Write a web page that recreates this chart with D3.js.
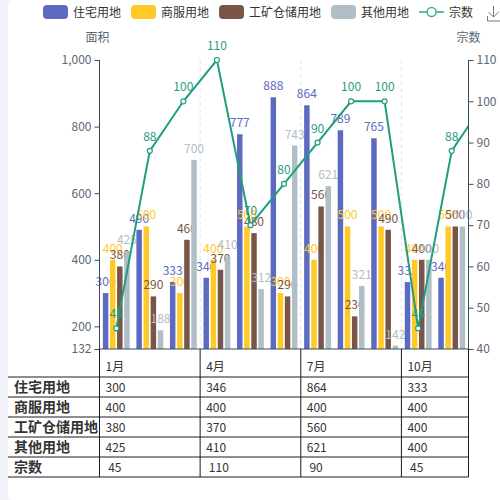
<!DOCTYPE html>
<html>
<head>
<meta charset="utf-8">
<script src="https://cdn.jsdelivr.net/npm/d3@7/dist/d3.min.js"></script>
<style>
  html, body { margin: 0; padding: 0; background: #f2f3f8; }
  svg { display: block; }
  text { font-family: "Noto Sans CJK SC", "Noto Sans", sans-serif; }
</style>
</head>
<body>
<svg id="chart" width="500" height="500"></svg>
<script>
// ---------- data ----------
const months = ["1月","2月","3月","4月","5月","6月","7月","8月","9月","10月","11月","12月"];
const visibleMonths = 11;
const seriesNames = ["住宅用地","商服用地","工矿仓储用地","其他用地"];
const residential = [300, 490, 333, 346, 777, 888, 864, 789, 765, 333, 346];
const commercial  = [400, 500, 300, 400, 500, 300, 400, 500, 500, 400, 500];
const industrial  = [380, 290, 460, 370, 480, 290, 560, 230, 490, 400, 500];
const other       = [425, 188, 700, 410, 312, 743, 621, 321, 142, 400, 500];
const countName = "宗数";
const counts      = [45, 88, 100, 110, 70, 80, 90, 100, 100, 45, 88, 100];
const leftTicks  = [132, 200, 400, 600, 800, 1000];
const rightTicks = [40, 50, 60, 70, 80, 90, 100, 110];
const tableColumns = [0, 3, 6, 9];   // month indices shown as axis labels / table columns
const leftAxisName = "面积";
const rightAxisName = "宗数";

const barSeries = [residential, commercial, industrial, other];
const colors = ["#5c6bc0", "#ffca28", "#795548", "#b0bec5"];
const lineColor = "#1f9d80";
const axisColor = "#3d4c5b";
const labelColor = "#5b6672";

// ---------- layout ----------
const svg = d3.select("#chart");
const x0 = 99.5, x1 = 468.5, yTop = 60, yBot = 349;
const plotW = x1 - x0;
const catW = plotW / visibleMonths;

svg.append("rect").attr("x", 8).attr("y", 0).attr("width", 500).attr("height", 500)
  .attr("rx", 5).attr("fill", "#fff");

const x = d3.scaleBand().domain(months).range([x0, x0 + catW * months.length]).padding(0);
const inner = d3.scaleBand().domain(seriesNames)
  .range([x.bandwidth() * 0.1, x.bandwidth() * 0.9])
  .paddingInner(0.3 / 1.3).paddingOuter(0);
const yL = d3.scaleLinear().domain([132, 1000]).range([yBot, yTop]);
const yR = d3.scaleLinear().domain([40, 110]).range([yBot, yTop]);

svg.append("clipPath").attr("id", "plotclip")
  .append("rect").attr("x", x0).attr("y", 0).attr("width", plotW).attr("height", yBot + 1);

// dashed vertical grid lines at label ticks
svg.append("g").selectAll("line").data(tableColumns.slice(1)).join("line")
  .attr("x1", i => x(months[i])).attr("x2", i => x(months[i]))
  .attr("y1", yTop).attr("y2", yBot)
  .attr("stroke", "#e0e3e8").attr("stroke-dasharray", "4,3");

// bars + labels, category-major order
const barsG = svg.append("g");
for (let c = 0; c < visibleMonths; c++) {
  barSeries.forEach((arr, s) => {
    const v = arr[c];
    const bx = x(months[c]) + inner(seriesNames[s]);
    barsG.append("rect")
      .attr("x", bx).attr("y", yL(v))
      .attr("width", inner.bandwidth()).attr("height", yL(132) - yL(v))
      .attr("fill", colors[s]);
    barsG.append("text")
      .attr("x", bx + inner.bandwidth() / 2).attr("y", yL(v) - 7)
      .attr("text-anchor", "middle").attr("font-size", 12)
      .attr("fill", colors[s]).text(v);
  });
}

// line series
const lineG = svg.append("g").attr("clip-path", "url(#plotclip)");
const line = d3.line().x((d, i) => x(months[i]) + x.bandwidth() / 2).y(d => yR(d));
lineG.append("path").datum(counts).attr("d", line)
  .attr("fill", "none").attr("stroke", lineColor).attr("stroke-width", 2);
lineG.selectAll("circle").data(counts).join("circle")
  .attr("cx", (d, i) => x(months[i]) + x.bandwidth() / 2).attr("cy", d => yR(d))
  .attr("r", 2.5).attr("fill", "#fff").attr("stroke", lineColor).attr("stroke-width", 1.2);
svg.append("g").selectAll("text").data(counts.slice(0, visibleMonths)).join("text")
  .attr("x", (d, i) => x(months[i]) + x.bandwidth() / 2).attr("y", d => yR(d) - 10)
  .attr("text-anchor", "middle").attr("font-size", 12).attr("fill", lineColor).text(d => d);

// axes
const leftAxis = d3.axisLeft(yL).tickValues(leftTicks).tickFormat(d3.format(",")).tickSize(5).tickPadding(3);
const gL = svg.append("g").attr("transform", `translate(${x0},0)`).call(leftAxis);
const rightAxis = d3.axisRight(yR).tickValues(rightTicks).tickSize(5).tickPadding(3);
const gR = svg.append("g").attr("transform", `translate(${x1},0)`).call(rightAxis);
[gL, gR].forEach(g => {
  g.select(".domain").attr("stroke", axisColor).attr("d", null);
  g.selectAll(".tick line").attr("stroke", axisColor);
  g.selectAll(".tick text").attr("fill", labelColor).attr("font-size", 12)
    .attr("font-family", '"Noto Sans CJK SC", sans-serif');
});
gL.select(".domain").remove();
gR.select(".domain").remove();
svg.append("line").attr("x1", x0).attr("x2", x0).attr("y1", yTop).attr("y2", yBot).attr("stroke", axisColor);
svg.append("line").attr("x1", x1).attr("x2", x1).attr("y1", yTop).attr("y2", yBot).attr("stroke", axisColor);
svg.append("line").attr("x1", x0).attr("x2", x1).attr("y1", yBot).attr("y2", yBot).attr("stroke", axisColor);

svg.append("text").attr("x", x0 - 2).attr("y", 42).attr("text-anchor", "middle")
  .attr("font-size", 12).attr("fill", labelColor).text(leftAxisName);
svg.append("text").attr("x", x1).attr("y", 42).attr("text-anchor", "middle")
  .attr("font-size", 12).attr("fill", labelColor).text(rightAxisName);

// data table
const tbl = svg.append("g");
const rowH = 20, headTop = yBot, headBot = 377;
const tableRows = seriesNames.map((n, s) => ({ name: n, vals: barSeries[s], pad: "" }))
  .concat([{ name: countName, vals: counts, pad: " " }]);
const colStarts = tableColumns.map(i => x(months[i]));
const colEnds = colStarts.slice(1).concat([x1]);
const tableBottom = headBot + rowH * tableRows.length;
// horizontal lines
for (let r = 0; r <= tableRows.length; r++) {
  tbl.append("line").attr("x1", 8).attr("x2", x1)
    .attr("y1", headBot + r * rowH).attr("y2", headBot + r * rowH)
    .attr("stroke", "#1c1c1c").attr("stroke-width", 1);
}
// vertical lines
colStarts.concat([x1]).forEach(cx => {
  tbl.append("line").attr("x1", cx).attr("x2", cx).attr("y1", headTop).attr("y2", tableBottom)
    .attr("stroke", "#1c1c1c").attr("stroke-width", 1);
});
// header
tableColumns.forEach((i, k) => {
  tbl.append("text").attr("x", colStarts[k] + 6).attr("y", 371)
    .attr("font-size", 12).attr("fill", "#333").text(months[i]);
});
tableRows.forEach((row, r) => {
  const ty = headBot + r * rowH + 15;
  tbl.append("text").attr("x", 14).attr("y", ty).attr("font-size", 14)
    .attr("font-weight", "bold").attr("fill", "#333").text(row.name);
  tableColumns.forEach((i, k) => {
    tbl.append("text").attr("x", colStarts[k] + 6).attr("y", ty)
      .attr("font-size", 12).attr("fill", "#333").style("white-space", "pre")
      .text(row.pad + row.vals[i]);
  });
});

// legend
const leg = svg.append("g");
let lx = 43;
const legItems = seriesNames.map((n, s) => ({ name: n, color: colors[s], type: "bar" }))
  .concat([{ name: countName, color: lineColor, type: "line" }]);
legItems.forEach(it => {
  if (it.type === "bar") {
    leg.append("rect").attr("x", lx).attr("y", 5).attr("width", 25).attr("height", 14)
      .attr("rx", 4).attr("fill", it.color);
  } else {
    leg.append("line").attr("x1", lx).attr("x2", lx + 25).attr("y1", 12).attr("y2", 12)
      .attr("stroke", "#5cc2a6").attr("stroke-width", 2);
    leg.append("circle").attr("cx", lx + 12.5).attr("cy", 12).attr("r", 4.5)
      .attr("fill", "#fff").attr("stroke", "#3fb393").attr("stroke-width", 1.5);
  }
  const t = leg.append("text").attr("x", lx + 30).attr("y", 16.5).attr("font-size", 12)
    .attr("fill", "#333").text(it.name);
  lx += 30 + t.node().getComputedTextLength() + 10;
});

// download icon
svg.append("path")
  .attr("d", "M493.5,6 V17 M488.5,12 L493.5,17 L498.5,12 M487.5,16 V21 H500")
  .attr("fill", "none").attr("stroke", "#777").attr("stroke-width", 1);
</script>
</body>
</html>
